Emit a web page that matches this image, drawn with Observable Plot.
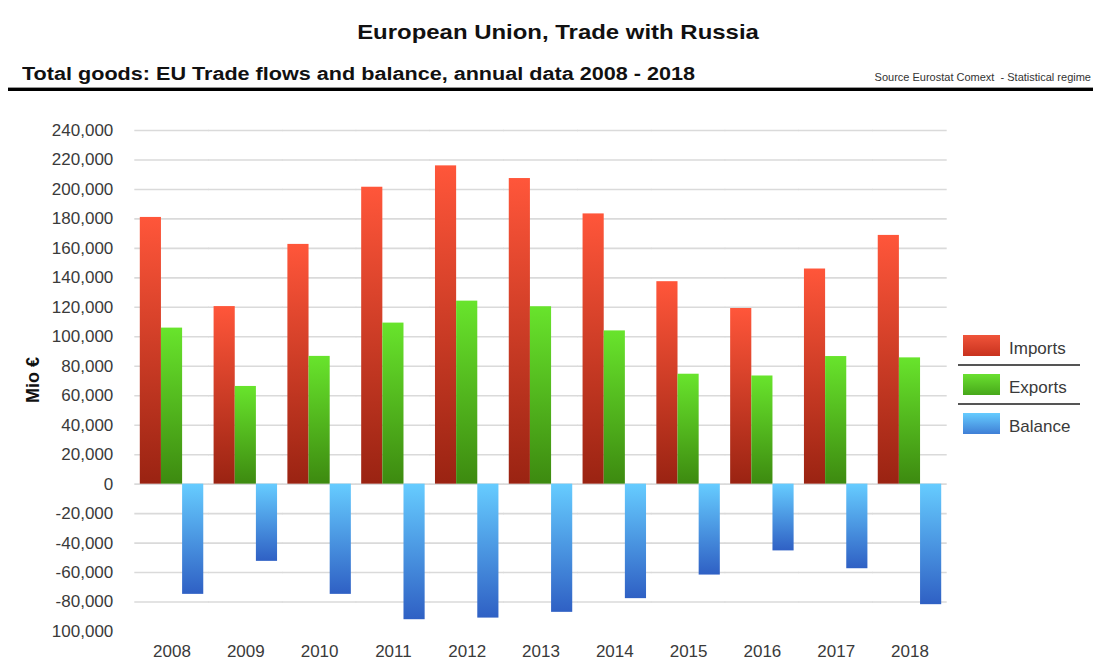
<!DOCTYPE html>
<html>
<head>
<meta charset="utf-8">
<script src="https://cdn.jsdelivr.net/npm/d3@7"></script>
<script src="https://cdn.jsdelivr.net/npm/@observablehq/plot@0.6"></script>
<style>
  html, body { margin: 0; padding: 0; background: #fff; }
  body { font-family: "Liberation Sans", Arial, Helvetica, sans-serif; }
  #wrap { position: relative; width: 1093px; height: 661px; overflow: hidden; background: #fff; }
  #title { position: absolute; left: 0; width: 1116px; top: 21px; text-align: center; font-size: 21px; line-height: 21px; font-weight: bold; color: #111; transform: scaleX(1.14); transform-origin: 558px 0; }
  #subtitle { position: absolute; left: 22px; top: 65px; font-size: 18px; line-height: 18px; font-weight: bold; color: #111; white-space: nowrap; transform: scaleX(1.2); transform-origin: 0 0; }
  #source { position: absolute; right: 2px; top: 72px; font-size: 11px; line-height: 11px; color: #333; white-space: pre; }
  #ruleGrey { position: absolute; left: 8px; right: 0; top: 87px; height: 1px; background: #999; }
  #ruleBlack { position: absolute; left: 8px; right: 0; top: 88px; height: 3px; background: #000; }
  #chart { position: absolute; left: 0; top: 95px; }
  #chart svg text { font-size: 17px; fill: #3a3a3a; }
  #ylabel { position: absolute; left: 33px; top: 380px; transform: translate(-50%, -50%) rotate(-90deg); font-size: 18px; font-weight: bold; color: #111; white-space: nowrap; }
  .sw { position: absolute; left: 963px; width: 37px; height: 21px; }
  .lt { position: absolute; left: 1009px; font-size: 17px; line-height: 17px; color: #3a3a3a; }
  .sep { position: absolute; left: 958px; width: 122px; height: 2px; background: #555; }
</style>
</head>
<body>
<svg width="0" height="0" style="position:absolute">
  <defs>
    <linearGradient id="gImports" x1="0" y1="0" x2="0" y2="1">
      <stop offset="0" stop-color="#ff563a"/>
      <stop offset="1" stop-color="#9a2312"/>
    </linearGradient>
    <linearGradient id="gExports" x1="0" y1="0" x2="0" y2="1">
      <stop offset="0" stop-color="#68e42c"/>
      <stop offset="1" stop-color="#3d8a10"/>
    </linearGradient>
    <linearGradient id="gBalance" x1="0" y1="0" x2="0" y2="1">
      <stop offset="0" stop-color="#66ccff"/>
      <stop offset="1" stop-color="#2f60c4"/>
    </linearGradient>
  </defs>
</svg>
<div id="wrap">
  <div id="title">European Union, Trade with Russia</div>
  <div id="subtitle">Total goods: EU Trade flows and balance, annual data 2008 - 2018</div>
  <div id="source">Source Eurostat Comext  - Statistical regime</div>
  <div id="ruleGrey"></div>
  <div id="ruleBlack"></div>
  <div id="chart"></div>
  <div id="ylabel">Mio €</div>
  <div id="legend"></div>
</div>
<script>
// ---- data ----
const years = ["2008", "2009", "2010", "2011", "2012", "2013", "2014", "2015", "2016", "2017", "2018"];
const seriesNames = ["Imports", "Exports", "Balance"];
const imports = [181000, 120500, 162700, 201500, 216000, 207400, 183400, 137400, 119200, 146000, 168800];
const exportsV = [105900, 66300, 86700, 109300, 124200, 120400, 104000, 74600, 73400, 86600, 85700];
const balance = [-74800, -52400, -74800, -92000, -90900, -87000, -77700, -61700, -45300, -57400, -81800];
const yTicks = [240000, 220000, 200000, 180000, 160000, 140000, 120000, 100000, 80000, 60000, 40000, 20000, 0, -20000, -40000, -60000, -80000, -100000];
const yTickLabels = ["240,000", "220,000", "200,000", "180,000", "160,000", "140,000", "120,000", "100,000", "80,000", "60,000", "40,000", "20,000", "0", "-20,000", "-40,000", "-60,000", "-80,000", "100,000"];
const gridValues = [240000, 220000, 200000, 180000, 160000, 140000, 120000, 100000, 80000, 60000, 40000, 20000, 0, -20000, -40000, -60000, -80000];
const seriesFill = { Imports: "url(#gImports)", Exports: "url(#gExports)", Balance: "url(#gBalance)" };
const legendSwatch = {
  Imports: "linear-gradient(#f0543a, #c8321e)",
  Exports: "linear-gradient(#6ae030, #47a81a)",
  Balance: "linear-gradient(#66ccff, #3f7fd6)"
};

const valuesBySeries = { Imports: imports, Exports: exportsV, Balance: balance };
const rows = [];
years.forEach((yr, i) => {
  seriesNames.forEach(s => rows.push({ year: yr, series: s, value: valuesBySeries[s][i] }));
});

const chart = Plot.plot({
  width: 1093,
  height: 566,
  marginTop: 35,
  marginBottom: 30,
  marginLeft: 135,
  marginRight: 147,
  style: { fontFamily: "Liberation Sans, Arial, sans-serif", fontSize: "17px", color: "#3a3a3a", background: "transparent", overflow: "visible" },
  facet: { data: rows, x: "year" },
  fx: { domain: years, paddingInner: 0.14, paddingOuter: 0.065, round: false, label: null, tickSize: 0, tickPadding: 13 },
  x: { domain: seriesNames, padding: 0, round: false, axis: null },
  y: {
    domain: [-100000, 240000],
    ticks: yTicks,
    tickFormat: d => yTickLabels[yTicks.indexOf(d)],
    tickSize: 0,
    tickPadding: 27,
    label: null
  },
  color: { type: "identity" },
  marks: [
    Plot.ruleY(gridValues, { stroke: "#dadada", strokeWidth: 1.6, insetLeft: -5.5, insetRight: -5.5 }),
    Plot.barY(rows, { x: "series", y: "value", fill: d => seriesFill[d.series] })
  ]
});
document.getElementById("chart").appendChild(chart);

// ---- legend ----
const legend = document.getElementById("legend");
const legendTops = [335, 374, 413];
seriesNames.forEach((s, i) => {
  const sw = document.createElement("div");
  sw.className = "sw";
  sw.style.top = legendTops[i] + "px";
  sw.style.background = legendSwatch[s];
  legend.appendChild(sw);
  const t = document.createElement("div");
  t.className = "lt";
  t.style.top = (legendTops[i] + 5) + "px";
  t.textContent = s;
  legend.appendChild(t);
  if (i < seriesNames.length - 1) {
    const sep = document.createElement("div");
    sep.className = "sep";
    sep.style.top = (legendTops[i] + 29) + "px";
    legend.appendChild(sep);
  }
});
</script>
</body>
</html>
